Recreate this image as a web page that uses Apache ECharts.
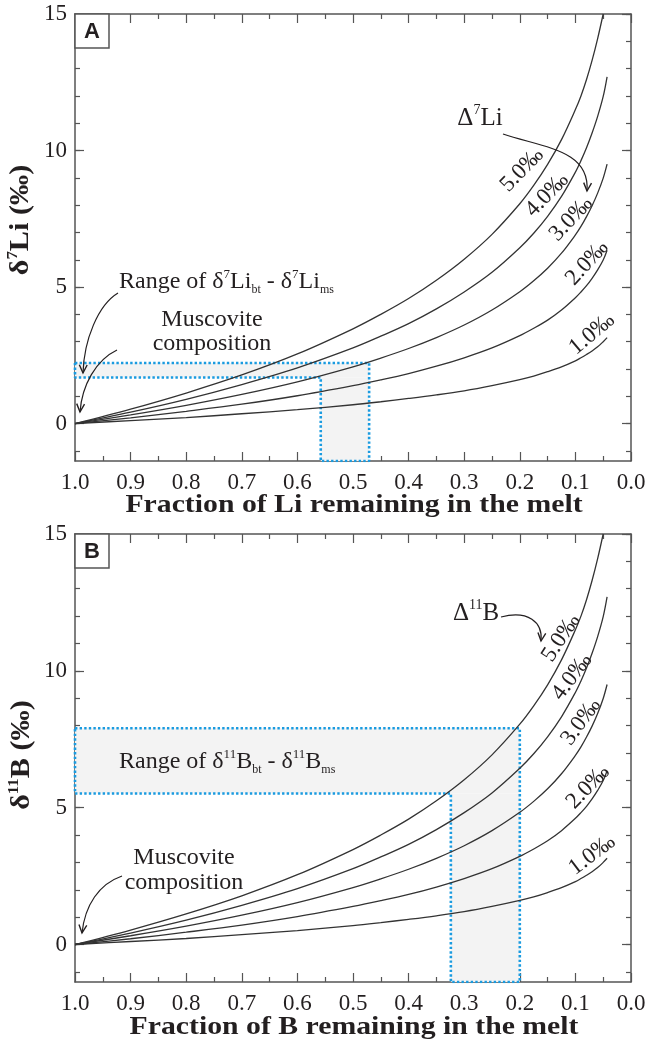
<!DOCTYPE html>
<html><head><meta charset="utf-8">
<script src="https://cdn.jsdelivr.net/npm/echarts@6/dist/echarts.min.js"></script>
<style>html,body{margin:0;padding:0;background:#fff}#c{width:649px;height:1047px}</style>
</head><body><div id="c"></div>
<script>
// ---- data ----
const fraction = [1.0, 0.9, 0.8, 0.7, 0.6, 0.5, 0.45, 0.4, 0.35, 0.3, 0.25, 0.2, 0.175, 0.15, 0.125, 0.1, 0.09, 0.08, 0.07, 0.06, 0.05, 0.043];
const curve10 = [0, 0.11, 0.22, 0.36, 0.51, 0.69, 0.80, 0.92, 1.05, 1.20, 1.39, 1.61, 1.74, 1.90, 2.08, 2.30, 2.41, 2.53, 2.66, 2.81, 3.00, 3.15];
const curve20 = [0, 0.21, 0.45, 0.71, 1.02, 1.39, 1.60, 1.83, 2.10, 2.41, 2.77, 3.22, 3.49, 3.79, 4.16, 4.61, 4.82, 5.05, 5.32, 5.63, 5.99, 6.35];
const curve30 = [0, 0.32, 0.67, 1.07, 1.53, 2.08, 2.40, 2.75, 3.15, 3.61, 4.16, 4.83, 5.23, 5.69, 6.24, 6.91, 7.22, 7.58, 7.98, 8.44, 8.99, 9.50];
const curve40 = [0, 0.42, 0.89, 1.43, 2.04, 2.77, 3.20, 3.66, 4.20, 4.82, 5.54, 6.44, 6.97, 7.59, 8.32, 9.21, 9.63, 10.10, 10.64, 11.25, 11.98, 12.70];
const curve50 = [0, 0.53, 1.12, 1.78, 2.55, 3.47, 4.00, 4.58, 5.25, 6.02, 6.93, 8.05, 8.72, 9.49, 10.40, 11.50, 12.00, 12.60, 13.30, 14.10, 15.00];
const curveNames = ['1.0‰', '2.0‰', '3.0‰', '4.0‰', '5.0‰'];
const yMajorTicks = [0, 5, 10, 15];
const yMinorTicks = [-1, 0, 1, 2, 3, 4, 5, 6, 7, 8, 9, 10, 11, 12, 13, 14, 15];
const yMin = -1.37, yMax = 15;
// range boxes: [edge fraction, inner fraction, outer fraction, low delta, high delta]
const boxLi = [1.0, 0.558, 0.471, 1.69, 2.22];
const boxB = [1.0, 0.324, 0.2, 5.52, 7.9];
const xNames = ['Fraction of Li remaining in the melt', 'Fraction of B remaining in the melt'];

const curves = [curve10, curve20, curve30, curve40, curve50];
const SERIF = 'Liberation Serif';
const AX = '#555';
const TXT = '#231f20';
const BLUE = '#1a9be0';

const grids = [
  {left: 75, top: 14, width: 556, height: 447},
  {left: 75, top: 534, width: 556, height: 448}
];
const xAxes = [], yAxes = [], series = [];
grids.forEach((g, gi) => {
  const common = {gridIndex: gi, type: 'value', min: 0, max: 1, interval: 0.1, inverse: true,
    axisLine: {show: true, onZero: false, lineStyle: {color: AX, width: 1.5}},
    axisTick: {show: true, inside: true, length: 9, lineStyle: {color: AX, width: 1.2}},
    minorTick: {show: true, splitNumber: 2, length: 5, lineStyle: {color: AX, width: 1.2}},
    splitLine: {show: false}, minorSplitLine: {show: false}};
  xAxes.push(Object.assign({}, common, {position: 'bottom',
    axisLabel: {formatter: v => v.toFixed(1), fontFamily: SERIF, fontSize: 23, color: TXT, margin: 10}}));
  xAxes.push(Object.assign({}, common, {position: 'top', axisLabel: {show: false}}));
  ['left', 'right'].forEach(pos => {
    yAxes.push({gridIndex: gi, type: 'value', min: yMin, max: yMax, position: pos,
      axisLine: {show: true, onZero: false, lineStyle: {color: AX, width: 1.5}},
      axisTick: {show: true, inside: true, length: 9, customValues: yMajorTicks, lineStyle: {color: AX, width: 1.2}},
      axisLabel: {show: pos === 'left', customValues: yMajorTicks, fontFamily: SERIF, fontSize: 23, color: TXT, margin: 8},
      splitLine: {show: false}});
    yAxes.push({gridIndex: gi, type: 'value', min: yMin, max: yMax, position: pos,
      axisLine: {show: false, onZero: false},
      axisTick: {show: true, inside: true, length: 5, customValues: yMinorTicks, lineStyle: {color: AX, width: 1.2}},
      axisLabel: {show: false, customValues: yMinorTicks},
      splitLine: {show: false}});
  });
  const xi = gi * 2, yi = gi * 4;
  const b = gi === 0 ? boxLi : boxB;
  series.push({type: 'line', xAxisIndex: xi, yAxisIndex: yi, z: 1, silent: true, symbol: 'none',
    data: [[b[0], b[4]], [b[2], b[4]], [b[2], yMin], [b[1], yMin], [b[1], b[3]], [b[0], b[3]], [b[0], b[4]]],
    lineStyle: {color: BLUE, width: 2.6, type: [2.4, 2.2]},
    markArea: {silent: true, itemStyle: {color: '#f3f3f3'},
      data: [[{coord: [b[0], b[3]]}, {coord: [b[2], b[4]]}], [{coord: [b[1], yMin]}, {coord: [b[2], b[3]]}]]}});
  curves.forEach((c, ci) => {
    series.push({type: 'line', name: curveNames[ci], xAxisIndex: xi, yAxisIndex: yi, z: 3, silent: true,
      symbol: 'none', smooth: 0.35, clip: true,
      data: c.map((v, i) => [fraction[i], v]),
      lineStyle: {color: '#333', width: 1.3}});
  });
});

// ---- annotations ----
function txt(x, y, text, o) {
  o = o || {};
  return {type: 'text', x: x, y: y, rotation: (o.rot || 0) * Math.PI / 180, scaleX: o.sx || 1, z: 50,
    style: {text: text, fontFamily: o.family || SERIF, fontSize: o.size || 21, fontWeight: o.weight || 'normal',
      fill: TXT, align: o.align || 'center', verticalAlign: 'middle', rich: o.rich}};
}
function arrow(p0, c1, c2, p1) {
  const a = Math.atan2(p1[1] - c2[1], p1[0] - c2[0]);
  const L = 9, w = 0.45;
  const l1 = [p1[0] - L * Math.cos(a - w), p1[1] - L * Math.sin(a - w)];
  const l2 = [p1[0] - L * Math.cos(a + w), p1[1] - L * Math.sin(a + w)];
  return [
    {type: 'bezierCurve', z: 50, shape: {x1: p0[0], y1: p0[1], cpx1: c1[0], cpy1: c1[1], cpx2: c2[0], cpy2: c2[1], x2: p1[0], y2: p1[1]},
      style: {stroke: TXT, fill: null, lineWidth: 1.2}},
    {type: 'polyline', z: 50, shape: {points: [l1, p1, l2]}, style: {stroke: TXT, fill: null, lineWidth: 1.4}}
  ];
}
function rich(size) {
  return {
    n: {fontFamily: SERIF, fontSize: size, lineHeight: size + 4, fill: TXT},
    b: {fontFamily: SERIF, fontSize: size, fontWeight: 'bold', lineHeight: size + 4, fill: TXT},
    sup: {fontFamily: SERIF, fontSize: Math.round(size * 0.55), lineHeight: Math.round(size * 0.6), verticalAlign: 'top', fill: TXT},
    supb: {fontFamily: SERIF, fontSize: Math.round(size * 0.55), fontWeight: 'bold', lineHeight: Math.round(size * 0.6), verticalAlign: 'top', fill: TXT},
    sub: {fontFamily: SERIF, fontSize: Math.round(size * 0.5), lineHeight: Math.round(size * 0.55), verticalAlign: 'bottom', fill: TXT}
  };
}
const graphic = [];
function panelBox(x, y, label) {
  graphic.push({type: 'rect', z: 40, shape: {x: x, y: y, width: 34, height: 34}, style: {fill: '#fff', stroke: AX, lineWidth: 1.5}});
  graphic.push(txt(x + 17, y + 18, label, {family: 'Liberation Sans', weight: 'bold', size: 22}));
}
panelBox(75, 14, 'A');
panelBox(75, 534, 'B');
// axis titles
graphic.push(txt(354, 506, xNames[0], {size: 25, weight: 'bold', sx: 1.19}));
graphic.push(txt(354, 1028, xNames[1], {size: 25, weight: 'bold', sx: 1.19}));
graphic.push(txt(21, 220, '{b|δ}{supb|7}{b|Li (‰)}', {rot: 90, sx: 1.12, rich: rich(27)}));
graphic.push(txt(22, 755, '{b|δ}{supb|11}{b|B (‰)}', {rot: 90, sx: 1.12, rich: rich(27)}));
// panel A annotations
graphic.push(txt(480, 118, '{n|Δ}{sup|7}{n|Li}', {rich: rich(25)}));
graphic.push(...arrow([503, 134], [545, 148], [590, 150], [587, 191]));
graphic.push(txt(119, 282, '{n|Range of δ}{sup|7}{n|Li}{sub|bt}{n| - δ}{sup|7}{n|Li}{sub|ms}', {align: 'left', rich: rich(24)}));
graphic.push(txt(212, 320, 'Muscovite', {size: 24}));
graphic.push(txt(212, 344, 'composition', {size: 24}));
graphic.push(...arrow([118, 293], [98, 305], [84, 340], [83, 373]));
graphic.push(...arrow([117, 350], [96, 360], [82, 385], [80, 412]));
graphic.push(txt(522, 170, '5.0‰', {rot: 46, size: 23}));
graphic.push(txt(547, 195, '4.0‰', {rot: 46, size: 23}));
graphic.push(txt(571, 219, '3.0‰', {rot: 47, size: 23}));
graphic.push(txt(587, 263, '2.0‰', {rot: 48, size: 23}));
graphic.push(txt(592, 334, '1.0‰', {rot: 40, size: 23}));
// panel B annotations
graphic.push(txt(476, 613, '{n|Δ}{sup|11}{n|B}', {rich: rich(25)}));
graphic.push(...arrow([501, 617], [528, 610], [543, 622], [541, 641]));
graphic.push(txt(119, 762, '{n|Range of δ}{sup|11}{n|B}{sub|bt}{n| - δ}{sup|11}{n|B}{sub|ms}', {align: 'left', rich: rich(24)}));
graphic.push(txt(184, 858, 'Muscovite', {size: 24}));
graphic.push(txt(184, 883, 'composition', {size: 24}));
graphic.push(...arrow([122, 876], [99, 884], [85, 905], [82, 933]));
graphic.push(txt(561, 638, '5.0‰', {rot: 57, size: 23}));
graphic.push(txt(572, 677, '4.0‰', {rot: 53, size: 23}));
graphic.push(txt(581, 722, '3.0‰', {rot: 54, size: 23}));
graphic.push(txt(588, 787, '2.0‰', {rot: 46, size: 23}));
graphic.push(txt(592, 855, '1.0‰', {rot: 37, size: 23}));

const chart = echarts.init(document.getElementById('c'), null, {renderer: 'canvas'});
chart.setOption({animation: false, backgroundColor: '#fff', grid: grids, xAxis: xAxes, yAxis: yAxes, series: series, graphic: graphic});
</script></body></html>
